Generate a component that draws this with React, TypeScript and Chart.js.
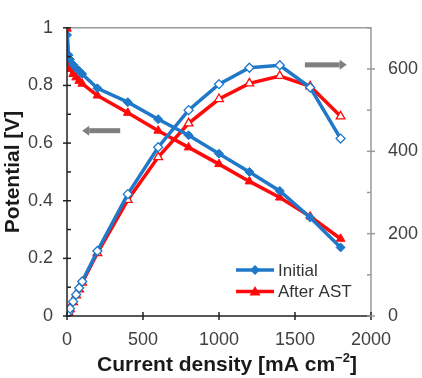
import React, { useEffect, useRef } from 'react';
import { Chart, registerables } from 'chart.js';

Chart.register(...registerables);

// ---- data ----
const currents = [0, 10, 20, 40, 60, 80, 100, 200, 400, 600, 800, 1000, 1200, 1400, 1600, 1800];
const initialPotential = [0.975, 0.905, 0.89, 0.872, 0.86, 0.85, 0.84, 0.79, 0.742, 0.683, 0.627, 0.563, 0.5, 0.434, 0.342, 0.238];
const afterPotential = [0.997, 0.875, 0.857, 0.84, 0.828, 0.816, 0.806, 0.765, 0.705, 0.643, 0.585, 0.527, 0.467, 0.411, 0.345, 0.268];
const initialPower = [0, 9, 18, 35, 52, 68, 84, 158, 296, 410, 500, 563, 603, 609, 555, 431];
const afterPower = [0, 9, 17, 34, 50, 65, 81, 153, 282, 386, 468, 527, 565, 583, 558, 485];

const seriesNames = ['Initial', 'After AST'];
const xTicks = [0, 500, 1000, 1500, 2000];
const leftTicks = [0, 0.2, 0.4, 0.6, 0.8, 1];
const leftMinor = [0.1, 0.3, 0.5, 0.7, 0.9];
const rightTicks = [0, 200, 400, 600];
const rightMinor = [100, 300, 500, 700];

const BLUE = '#1f78c8';
const RED = '#ff0a0a';
const GRAY = '#7f7f7f';
const FONT = "'Liberation Sans', Arial, sans-serif";

const pts = (ys: number[]) => currents.map((x, i) => ({ x, y: ys[i] }));

const framePlugin = {
  id: 'frame',
  afterDraw(chart: any) {
    const { ctx, chartArea: a, scales } = chart;
    const x = scales.x, y = scales.y, y2 = scales.y2;
    ctx.save();
    // frame
    ctx.lineWidth = 1.5;
    ctx.strokeStyle = '#9a9a9a';
    ctx.beginPath();
    ctx.moveTo(a.left, a.top); ctx.lineTo(a.right, a.top); ctx.lineTo(a.right, a.bottom);
    ctx.stroke();
    ctx.strokeStyle = '#222';
    ctx.beginPath();
    ctx.moveTo(a.left, a.top); ctx.lineTo(a.left, a.bottom); ctx.lineTo(a.right, a.bottom);
    ctx.stroke();
    // ticks
    ctx.strokeStyle = '#222';
    leftTicks.forEach(v => { const p = y.getPixelForValue(v); ctx.beginPath(); ctx.moveTo(a.left - 4, p); ctx.lineTo(a.left + 4, p); ctx.stroke(); });
    leftMinor.forEach(v => { const p = y.getPixelForValue(v); ctx.beginPath(); ctx.moveTo(a.left, p); ctx.lineTo(a.left + 4, p); ctx.stroke(); });
    xTicks.forEach(v => { const p = x.getPixelForValue(v); ctx.beginPath(); ctx.moveTo(p, a.bottom - 4); ctx.lineTo(p, a.bottom + 4); ctx.stroke(); });
    ctx.strokeStyle = '#9a9a9a';
    rightTicks.forEach(v => { const p = y2.getPixelForValue(v); ctx.beginPath(); ctx.moveTo(a.right - 4, p); ctx.lineTo(a.right + 4, p); ctx.stroke(); });
    rightMinor.forEach(v => { const p = y2.getPixelForValue(v); ctx.beginPath(); ctx.moveTo(a.right - 4, p); ctx.lineTo(a.right, p); ctx.stroke(); });

    // arrows
    const arrow = (x0: number, x1: number, py: number, head: number) => {
      const dir = Math.sign(x1 - x0);
      ctx.fillStyle = GRAY;
      ctx.fillRect(Math.min(x0, x1 - dir * head), py - 2.5, Math.abs(x1 - dir * head - x0), 5);
      ctx.beginPath();
      ctx.moveTo(x1, py);
      ctx.lineTo(x1 - dir * head, py - 5);
      ctx.lineTo(x1 - dir * head, py + 5);
      ctx.closePath();
      ctx.fill();
    };
    arrow(x.getPixelForValue(350), x.getPixelForValue(100), y.getPixelForValue(0.643), 7);
    arrow(x.getPixelForValue(1565), x.getPixelForValue(1840), y2.getPixelForValue(610), 7);

    // legend
    const items = [
      { name: seriesNames[0], color: BLUE, shape: 'diamond' },
      { name: seriesNames[1], color: RED, shape: 'triangle' },
    ];
    items.forEach((it, i) => {
      const ly = 270 + i * 21.5;
      ctx.strokeStyle = it.color;
      ctx.lineWidth = 3.5;
      ctx.beginPath(); ctx.moveTo(236, ly); ctx.lineTo(274, ly); ctx.stroke();
      ctx.fillStyle = it.color;
      ctx.beginPath();
      if (it.shape === 'diamond') {
        ctx.moveTo(255, ly - 5); ctx.lineTo(260, ly); ctx.lineTo(255, ly + 5); ctx.lineTo(250, ly);
      } else {
        ctx.moveTo(255, ly - 5.5); ctx.lineTo(260.5, ly + 4); ctx.lineTo(249.5, ly + 4);
      }
      ctx.closePath(); ctx.fill();
      ctx.fillStyle = '#333';
      ctx.font = `17px ${FONT}`;
      ctx.textBaseline = 'middle';
      ctx.textAlign = 'left';
      ctx.fillText(it.name, 278, ly + 1);
    });

    // x title with superscript
    const main = 'Current density [mA cm';
    const sup = '\u22122';
    const end = ']';
    ctx.fillStyle = '#1a1a1a';
    ctx.textBaseline = 'alphabetic';
    ctx.font = `bold 21px ${FONT}`;
    const w1 = ctx.measureText(main).width;
    const w3 = ctx.measureText(end).width;
    ctx.font = `bold 13px ${FONT}`;
    const w2 = ctx.measureText(sup).width;
    const total = w1 + w2 + w3;
    const cx = 227;
    let tx = cx - total / 2;
    const base = 371;
    ctx.font = `bold 21px ${FONT}`;
    ctx.fillText(main, tx, base);
    tx += w1;
    ctx.font = `bold 13px ${FONT}`;
    ctx.fillText(sup, tx, base - 9);
    tx += w2;
    ctx.font = `bold 21px ${FONT}`;
    ctx.fillText(end, tx, base);
    ctx.restore();
  },
};

export default function App() {
  const ref = useRef<HTMLCanvasElement | null>(null);
  useEffect(() => {
    document.body.style.margin = '0';
    if (!ref.current) return;
    const tickFont = { family: FONT, size: 18 };
    const chart = new Chart(ref.current, {
      type: 'line',
      data: {
        datasets: [
          {
            label: seriesNames[0] + ' potential', data: pts(initialPotential), yAxisID: 'y',
            borderColor: BLUE, backgroundColor: BLUE, borderWidth: 3.5,
            pointStyle: 'rectRot', pointRadius: 4.5, pointBorderWidth: 1, pointBackgroundColor: BLUE, pointBorderColor: BLUE,
          },
          {
            label: seriesNames[0] + ' power', data: pts(initialPower), yAxisID: 'y2',
            borderColor: BLUE, backgroundColor: '#fff', borderWidth: 3.5,
            pointStyle: 'rectRot', pointRadius: 4.5, pointBorderWidth: 1.3, pointBackgroundColor: '#fff', pointBorderColor: BLUE,
          },
          {
            label: seriesNames[1] + ' potential', data: pts(afterPotential), yAxisID: 'y',
            borderColor: RED, backgroundColor: RED, borderWidth: 3.5,
            pointStyle: 'triangle', pointRadius: 5, pointBorderWidth: 1, pointBackgroundColor: RED, pointBorderColor: RED,
          },
          {
            label: seriesNames[1] + ' power', data: pts(afterPower), yAxisID: 'y2',
            borderColor: RED, backgroundColor: '#fff', borderWidth: 3.5,
            pointStyle: 'triangle', pointRadius: 5, pointBorderWidth: 1.3, pointBackgroundColor: '#fff', pointBorderColor: RED,
          },
        ],
      },
      options: {
        responsive: false,
        animation: false,
        layout: { padding: { top: 14, left: 0, right: 0, bottom: 0 } },
        plugins: { legend: { display: false }, tooltip: { enabled: false } },
        elements: { line: { tension: 0 } },
        scales: {
          x: {
            type: 'linear', min: 0, max: 2000,
            afterFit: (s: any) => { s.height = 62; },
            afterBuildTicks: (s: any) => { s.ticks = xTicks.map(v => ({ value: v })); },
            ticks: { font: tickFont, color: '#404040', padding: 13, maxRotation: 0, autoSkip: false, callback: (v: any) => String(v) },
            grid: { display: false, drawTicks: false },
            border: { display: false },
          },
          y: {
            type: 'linear', position: 'left', min: 0, max: 1,
            afterFit: (s: any) => { s.width = 67; },
            afterBuildTicks: (s: any) => { s.ticks = leftTicks.map(v => ({ value: v })); },
            ticks: { font: tickFont, color: '#404040', padding: 14, callback: (v: any) => String(Math.round(v * 10) / 10) },
            grid: { display: false, drawTicks: false },
            border: { display: false },
            title: { display: true, text: 'Potential [V]', font: { family: FONT, size: 21, weight: 'bold' }, color: '#1a1a1a', padding: { top: 1, bottom: 0 } },
          },
          y2: {
            type: 'linear', position: 'right', min: 0, max: 700,
            afterFit: (s: any) => { s.width = 51; },
            afterBuildTicks: (s: any) => { s.ticks = rightTicks.map(v => ({ value: v })); },
            ticks: { font: tickFont, color: '#404040', padding: 17, callback: (v: any) => String(v) },
            grid: { display: false, drawTicks: false },
            border: { display: false },
          },
        },
      },
      plugins: [framePlugin],
    } as any);
    return () => chart.destroy();
  }, []);
  return (
    <div style={{ position: 'absolute', left: 0, top: 0, width: 422, height: 378, background: '#fff' }}>
      <canvas ref={ref} width={422} height={378} style={{ width: 422, height: 378 }} />
    </div>
  );
}
